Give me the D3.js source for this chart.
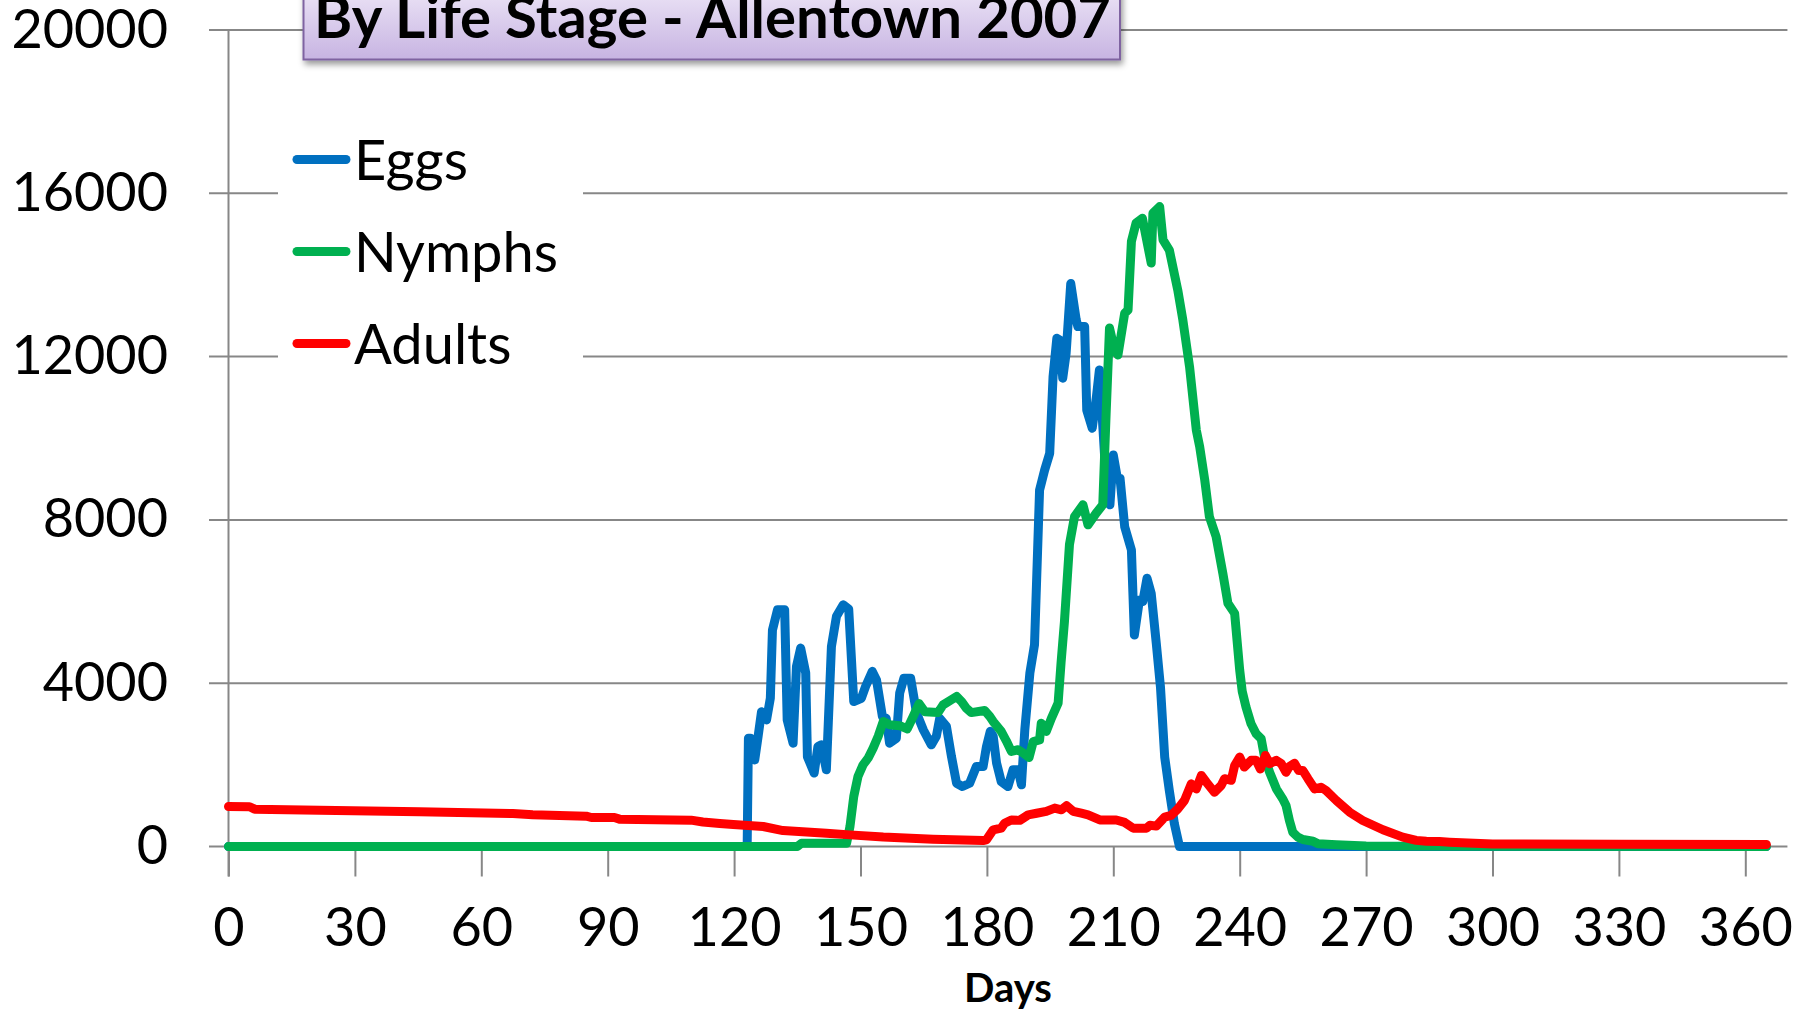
<!DOCTYPE html>
<html>
<head>
<meta charset="utf-8">
<script src="https://cdn.jsdelivr.net/npm/d3@7/dist/d3.min.js"></script>
<style>
  html, body { margin: 0; padding: 0; background: #ffffff; }
  svg { display: block; font-family: Lato, "Open Sans", sans-serif; }
</style>
</head>
<body>
<svg id="chart" width="1796" height="1013"></svg>
<script>
// ---- data ----
const title = "By Life Stage - Allentown 2007";
const xLabel = "Days";
const xTicks = [0, 30, 60, 90, 120, 150, 180, 210, 240, 270, 300, 330, 360];
const yTicks = [0, 4000, 8000, 12000, 16000, 20000];
const seriesNames = ["Eggs", "Nymphs", "Adults"];
const seriesColors = ["#0070C0", "#00B050", "#FF0000"];

const eggs = [
  [0,0],[123.1,0],[123.4,2650],[123.9,2650],[124.9,2120],[125.7,2700],[126.5,3300],[127.7,3100],
  [128.6,3630],[129.1,5300],[130.3,5800],[132.0,5800],[132.6,3100],[134.0,2530],[134.8,4410],
  [135.8,4860],[137.0,4250],[137.4,2200],[139.0,1800],[139.9,2450],[140.7,2490],[141.9,1880],
  [143.1,4900],[144.3,5640],[145.9,5920],[147.2,5815],[148.4,3550],[150.2,3630],[151.2,3920],
  [152.8,4290],[153.8,4080],[155.2,3185],[156.1,3140],[156.9,2530],[158.5,2650],[159.3,3760],
  [160.3,4120],[161.9,4120],[163.3,3270],[164.9,2860],[166.8,2490],[168.0,2700],[168.8,3140],
  [170.4,2940],[171.6,2200],[172.8,1550],[174.2,1470],[175.9,1550],[177.5,1960],[179.1,1960],
  [179.9,2450],[180.8,2820],[181.5,2700],[182.3,2040],[183.4,1590],[185.0,1470],[186.2,1880],
  [187.4,1880],[188.2,1510],[189.0,2860],[190.2,4250],[191.3,4940],[192.5,8730],[193.7,9220],
  [194.9,9630],[195.7,11510],[196.6,12450],[197.4,12400],[198.0,11470],[198.8,12080],
  [199.9,13790],[201.2,12900],[201.6,12735],[203.2,12735],[203.7,10690],[205.0,10245],
  [206.0,11020],[206.7,11670],[208.3,8950],[209.2,8370],[210.0,9590],[211.0,9000],[211.6,9020],
  [212.7,7835],[214.3,7263],[215.0,5180],[216.2,6040],[217.0,6000],[218.0,6570],[219.0,6200],
  [220.2,4980],[221.2,3900],[222.2,2190],[223.3,1370],[224.5,555],[225.7,0],[365,0]
];

const nymphs = [
  [0,0],[135,0],[136,80],[146.7,80],[147.5,490],[148.4,1225],[149.4,1715],[150.6,2000],
  [151.8,2164],[153.0,2410],[154.2,2700],[155.4,3060],[156.9,2980],[159.3,2960],[161.1,2880],
  [162.5,3185],[163.9,3500],[165.3,3300],[168.4,3280],[169.6,3470],[172.8,3675],[174.0,3550],
  [175.1,3390],[176.3,3280],[179.5,3330],[180.7,3185],[181.5,3060],[183.4,2820],[184.6,2590],
  [185.8,2330],[187.4,2370],[188.6,2290],[190.0,2180],[191.0,2570],[192.5,2610],[192.9,3020],
  [194.1,2820],[195.3,3140],[196.9,3510],[197.6,4500],[198.4,5500],[199.6,7400],[200.8,8080],
  [202.8,8370],[204.0,7880],[205.9,8160],[207.5,8370],[208.3,10610],[209.1,12700],[210.3,12160],
  [211.1,12040],[212.7,13060],[213.5,13140],[214.3,14820],[215.4,15270],[216.9,15390],
  [219.0,14290],[219.4,15510],[221.0,15675],[221.8,14860],[223.3,14610],[225.3,13630],
  [226.5,12900],[228.1,11750],[229.7,10200],[230.5,9795],[231.7,8980],[232.8,8080],[234.4,7590],
  [236.0,6690],[237.2,5960],[238.8,5710],[240.0,4320],[240.6,3800],[241.5,3414],[242.7,3005],
  [243.9,2760],[245.1,2640],[245.9,2190],[247.1,1820],[248.7,1413],[250.2,1168],[251.0,1005],
  [251.8,637],[252.6,350],[253.8,230],[255.0,170],[257.4,130],[258.6,65],[262.9,40],[270,10],[365,0]
];

const adults = [
  [0,980],[5,975],[6.2,915],[21.6,890],[45.3,850],[67.5,808],[72.2,776],[84.9,743],[86.1,710],
  [91.6,710],[92.8,670],[109.8,645],[112.6,600],[116.6,565],[119.8,540],[126.9,490],[131.6,390],
  [141.9,327],[147.5,285],[155.4,230],[167.2,180],[179.1,147],[179.9,163],[181.5,408],[183.4,450],
  [184.2,570],[185.8,650],[187.8,640],[189.8,775],[191.8,815],[194.1,860],[196.1,940],[197.7,900],
  [198.9,1000],[200.5,860],[202.4,815],[204.0,775],[206.8,650],[210.7,650],[212.7,590],[214.7,450],
  [217.9,450],[218.7,520],[220.2,500],[222.2,720],[223.7,760],[225.3,920],[226.9,1130],
  [228.5,1535],[229.7,1410],[230.9,1740],[232.1,1575],[234.0,1330],[235.6,1495],[236.4,1660],
  [238.0,1620],[238.8,1985],[240.0,2190],[241.1,1945],[242.7,2110],[243.9,2110],[244.9,1900],
  [246.1,2230],[247.1,2025],[248.7,2110],[249.9,2025],[251.0,1820],[251.8,1960],[253.0,2040],
  [254.0,1860],[255.0,1860],[256.2,1660],[257.8,1410],[259.3,1450],[260.5,1370],[262.9,1130],
  [266.1,840],[269.2,637],[274.0,410],[278.7,230],[281.9,150],[284.3,130],[287.4,122],
  [289.8,106],[300,60],[330,55],[365,50]
];

const seriesData = [eggs, nymphs, adults];

// ---- layout ----
const svg = d3.select("#chart");
const x = d3.scaleLinear().domain([0, 360]).range([228.5, 1745.3]);
const y = d3.scaleLinear().domain([0, 20000]).range([846.5, 30]);
const gridLeft = 209, gridRight = x(370);
const gridColor = "#878787";

// gridlines (with left tick stubs)
svg.append("g").selectAll("line").data(yTicks).join("line")
  .attr("x1", gridLeft).attr("x2", gridRight)
  .attr("y1", d => y(d)).attr("y2", d => y(d))
  .attr("stroke", gridColor).attr("stroke-width", 2);

// y axis line
svg.append("line")
  .attr("x1", x(0)).attr("x2", x(0))
  .attr("y1", y(20000)).attr("y2", y(0) + 30)
  .attr("stroke", gridColor).attr("stroke-width", 2);

// x axis ticks via d3 axis
const xAxis = d3.axisBottom(x).tickValues(xTicks).tickSize(30).tickFormat(d => d);
const gx = svg.append("g").attr("transform", `translate(0,${y(0)})`).call(xAxis);
gx.select(".domain").remove();
gx.selectAll(".tick line").attr("stroke", gridColor).attr("stroke-width", 2);
gx.selectAll(".tick text")
  .attr("y", 0).attr("dy", null)
  .attr("transform", "translate(0,99)")
  .attr("fill", "#000").attr("font-size", 54)
  .attr("font-family", "Lato, sans-serif");

// y axis labels via d3 axis
const yAxis = d3.axisLeft(y).tickValues(yTicks).tickSize(0).tickFormat(d => d);
const gy = svg.append("g").attr("transform", `translate(168,0)`).call(yAxis);
gy.select(".domain").remove();
gy.selectAll(".tick text")
  .attr("x", 0).attr("dy", null).attr("y", 17)
  .attr("text-anchor", "end")
  .attr("fill", "#000").attr("font-size", 54)
  .attr("font-family", "Lato, sans-serif");

// series lines
const line = d3.line().x(d => x(d[0])).y(d => y(d[1]));
svg.append("g").selectAll("path").data(seriesData).join("path")
  .attr("d", line)
  .attr("fill", "none")
  .attr("stroke", (d, i) => seriesColors[i])
  .attr("stroke-width", 9)
  .attr("stroke-linejoin", "round")
  .attr("stroke-linecap", "round");

// legend
const lg = svg.append("g");
lg.append("rect").attr("x", 278).attr("y", 100).attr("width", 305).attr("height", 290).attr("fill", "#fff");
const items = lg.selectAll("g.item").data(seriesNames).join("g")
  .attr("class", "item")
  .attr("transform", (d, i) => `translate(0,${159.5 + i * 92})`);
items.append("line")
  .attr("x1", 297).attr("x2", 346).attr("y1", 0).attr("y2", 0)
  .attr("stroke", (d, i) => seriesColors[i]).attr("stroke-width", 9).attr("stroke-linecap", "round");
items.append("text")
  .attr("x", 354).attr("y", 20)
  .attr("font-size", 56).attr("fill", "#000")
  .text(d => d);

// title box
const defs = svg.append("defs");
const grad = defs.append("linearGradient").attr("id", "tg").attr("x1", 0).attr("y1", 0).attr("x2", 0).attr("y2", 1);
grad.append("stop").attr("offset", "0%").attr("stop-color", "#ece4f6");
grad.append("stop").attr("offset", "100%").attr("stop-color", "#c7b4e2");
const flt = defs.append("filter").attr("id", "sh").attr("x", "-5%").attr("y", "-20%").attr("width", "110%").attr("height", "160%");
flt.append("feDropShadow").attr("dx", 2).attr("dy", 4).attr("stdDeviation", 3).attr("flood-color", "#000").attr("flood-opacity", 0.4);
svg.append("rect")
  .attr("x", 303.5).attr("y", -12).attr("width", 816.5).attr("height", 71.5)
  .attr("fill", "url(#tg)").attr("stroke", "#7f63a1").attr("stroke-width", 2)
  .attr("filter", "url(#sh)");
svg.append("text")
  .attr("x", 314).attr("y", 38)
  .attr("font-size", 57).attr("font-weight", "bold").attr("fill", "#000")
  .attr("textLength", 797).attr("lengthAdjust", "spacingAndGlyphs")
  .text(title);

// x axis title
svg.append("text")
  .attr("x", x(185)).attr("y", 1002)
  .attr("text-anchor", "middle")
  .attr("font-size", 40).attr("font-weight", "bold").attr("fill", "#000")
  .text(xLabel);
</script>
</body>
</html>
